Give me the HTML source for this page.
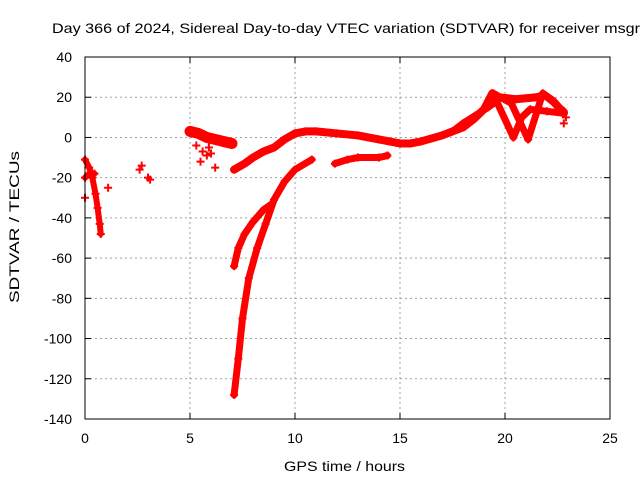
<!DOCTYPE html>
<html><head><meta charset="utf-8"><style>
html,body{margin:0;padding:0;background:#fff;}
svg{display:block;font-family:"Liberation Sans",sans-serif;}
</style></head><body>
<svg id="chart" width="640" height="480">
<text x="52" y="33" font-size="14" textLength="588" lengthAdjust="spacingAndGlyphs">Day 366 of 2024, Sidereal Day-to-day VTEC variation (SDTVAR) for receiver msgr</text>
<text x="284" y="471" font-size="14" textLength="121" lengthAdjust="spacingAndGlyphs">GPS time / hours</text>
<text transform="translate(19,303) rotate(-90)" font-size="14" textLength="152" lengthAdjust="spacingAndGlyphs">SDTVAR / TECUs</text>
<g id="grid"></g><g id="marks"></g>
<rect x="85" y="57" width="525" height="362" fill="none" stroke="#000" stroke-width="1"/>
</svg>
<script>
const xTicks=[0,5,10,15,20,25];
const yTicks=[-140,-120,-100,-80,-60,-40,-20,0,20,40];
const traceA=[[0,-11],[0.2,-15],[0.35,-20],[0.5,-28],[0.6,-35],[0.7,-43],[0.75,-48]];
const traceA2=[[0,-20],[0.2,-18],[0.45,-18]];
const scatterPts=[[0,-30],[1.1,-25],[2.6,-16],[2.7,-14],[3.0,-20],[3.1,-21],[5.6,-7],[5.5,-12],[5.8,-9],[6.0,-8],[6.2,-15],[5.3,-4],[5.9,-5],[22.8,7],[22.9,10]];
const traceCluster=[[5,3],[5.4,2],[5.8,0],[6.2,-1],[6.6,-2],[7.0,-3]];
const traceB=[[7.1,-16],[7.6,-13],[8.0,-10],[8.5,-7],[9.0,-5],[9.5,-1],[10,2],[10.5,3],[11,3],[12,2],[13,1],[13.5,0],[14,-1],[14.5,-2],[15,-3],[15.5,-3],[16,-2],[17,1],[18,5],[18.5,9],[19,14],[19.4,22],[19.7,20],[20.5,19],[21.5,20],[21.9,21],[22.3,18],[22.8,12]];
const traceB2=[[17.5,3],[18,7],[18.6,11],[19.2,15],[19.6,18],[20.4,0],[20.8,10],[21.2,14],[22,13],[22.8,12]];
const traceB3=[[19.6,21],[20.3,17],[21.1,-1],[21.8,22],[22.8,13]];
const traceC=[[7.1,-128],[7.3,-110],[7.5,-90],[7.8,-70],[8.2,-55],[8.6,-43],[9.0,-31],[9.5,-22],[10,-16],[10.8,-11]];
const traceD=[[7.1,-64],[7.3,-55],[7.6,-48],[8.0,-42],[8.5,-36],[8.9,-33]];
const traceE=[[11.9,-13],[12.5,-11],[13,-10],[14,-10],[14.4,-9]];
const traces=[traceA,traceA2,traceCluster,traceB,traceB2,traceB3,traceC,traceD,traceE];
const widths=[6,6,11,8,7,7,7,7,7];
const X0=85,X1=610,Y0=419,Y1=57;
const sx=v=>X0+(v-0)/(25-0)*(X1-X0);
const sy=v=>Y0-(v+140)/(180)*(Y0-Y1);
const NS="http://www.w3.org/2000/svg";
const grid=document.getElementById('grid'),marks=document.getElementById('marks');
function mk(t,a,p){const e=document.createElementNS(NS,t);for(const k in a)e.setAttribute(k,a[k]);p.appendChild(e);return e;}
xTicks.forEach(t=>{const x=sx(t);
 if(t>0&&t<25){const g=mk('line',{x1:x,x2:x,y1:Y0,y2:Y1,stroke:'#a0a0a0','stroke-dasharray':'2,3'},grid);
 
 }
 mk('line',{x1:x,x2:x,y1:Y0,y2:Y0-6,stroke:'#000'},grid);mk('line',{x1:x,x2:x,y1:Y1,y2:Y1+6,stroke:'#000'},grid);
 const l=mk('text',{x:x,y:443,'font-size':14,'text-anchor':'middle'},grid);l.textContent=t;
 
 });
yTicks.forEach(t=>{const y=sy(t);
 if(t>-140&&t<40){const g=mk('line',{x1:X0,x2:X1,y1:y,y2:y,stroke:'#a0a0a0','stroke-dasharray':'2,3'},grid);
 
 }
 mk('line',{x1:X0,x2:X0+6,y1:y,y2:y,stroke:'#000'},grid);mk('line',{x1:X1,x2:X1-6,y1:y,y2:y,stroke:'#000'},grid);
 const l=mk('text',{x:72,y:y+5,'font-size':14,'text-anchor':'end'},grid);l.textContent=t;
 
 });
function plus(p){const x=sx(p[0]),y=sy(p[1]);
 const e=mk('path',{d:`M${x-4},${y}H${x+4}M${x},${y-4}V${y+4}`,stroke:'#f00','stroke-width':2},marks);
 
 }
traces.forEach((tr,i)=>{
 const pl=mk('polyline',{points:tr.map(p=>sx(p[0])+','+sy(p[1])).join(' '),fill:'none',stroke:'#f00','stroke-width':widths[i],'stroke-linejoin':'round','stroke-linecap':'round'},marks);
 
 
 tr.forEach(plus);});
scatterPts.forEach(plus);
</script>
</body></html>
